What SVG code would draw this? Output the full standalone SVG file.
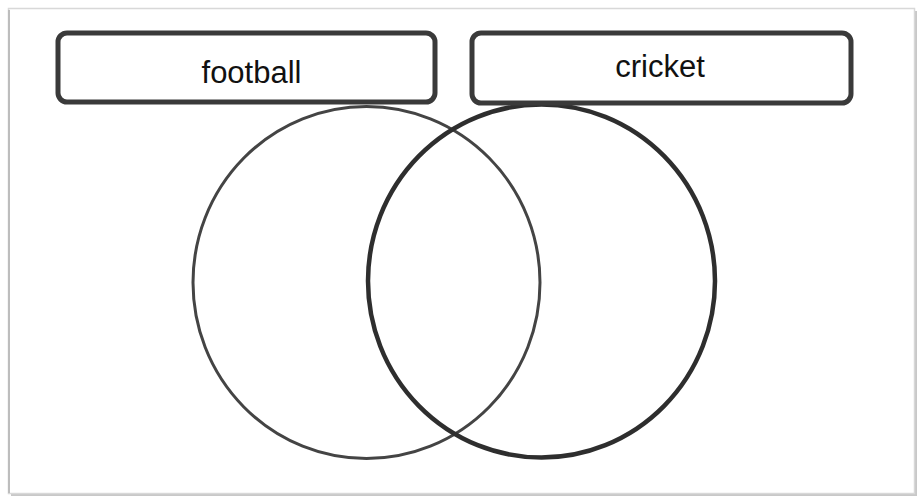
<svg xmlns="http://www.w3.org/2000/svg" width="921" height="497" viewBox="0 0 921 497">
<style>
.box{fill:#fff;stroke:#3a3a3a;stroke-width:5}
.lbl{font-family:"Liberation Sans",Arial,sans-serif;font-size:31px;fill:#111;text-anchor:middle}
</style>
<rect width="921" height="497" fill="#fff"/>
<g id="frame">
<rect x="11" y="11" width="906" height="485" fill="#c8c8c8"/>
<rect x="8.5" y="8.5" width="906" height="485" fill="#fff" stroke="#d8d8d8" stroke-width="1.5"/>
<line x1="9" y1="10" x2="9" y2="493" stroke="#bdbdbd" stroke-width="2"/>
</g>
<g id="football-circle">
<ellipse cx="366.5" cy="282.5" rx="173.5" ry="176" fill="none" stroke="#444" stroke-width="3"/>
</g>
<g id="cricket-circle">
<ellipse cx="541.5" cy="281" rx="173.5" ry="176.5" fill="none" stroke="#2e2e2e" stroke-width="4.5"/>
</g>
<g id="football">
<rect class="box" x="58" y="33" width="377" height="69" rx="9"/>
<text class="lbl" x="251.5" y="83">football</text>
</g>
<g id="cricket">
<rect class="box" x="472" y="33" width="379" height="70" rx="9"/>
<text class="lbl" x="660" y="77">cricket</text>
</g>
<g id="connectors"></g>
</svg>
